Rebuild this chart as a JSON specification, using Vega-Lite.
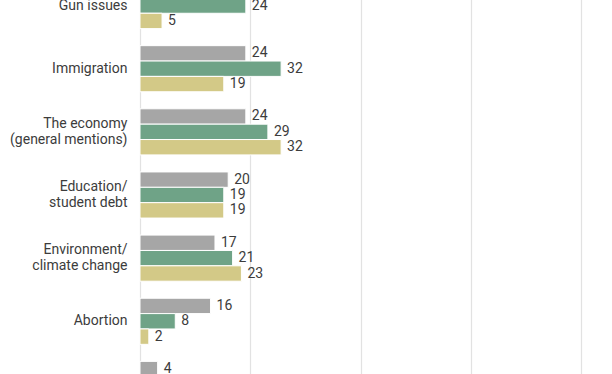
{
  "$schema": "https://vega.github.io/schema/vega-lite/v6.json",
  "width": 441,
  "height": 442,
  "autosize": {"type": "none"},
  "padding": {"left": 140, "top": -26, "right": 31, "bottom": -42},
  "background": "white",
  "config": {"font": "Roboto", "view": {"stroke": null}},
  "data": {
    "values": [
      {"issue": "Gun issues", "group": "Group 2", "value": 24},
      {"issue": "Gun issues", "group": "Group 3", "value": 5},
      {"issue": "Immigration", "group": "Group 1", "value": 24},
      {"issue": "Immigration", "group": "Group 2", "value": 32},
      {"issue": "Immigration", "group": "Group 3", "value": 19},
      {"issue": "The economy|(general mentions)", "group": "Group 1", "value": 24},
      {"issue": "The economy|(general mentions)", "group": "Group 2", "value": 29},
      {"issue": "The economy|(general mentions)", "group": "Group 3", "value": 32},
      {"issue": "Education/|student debt", "group": "Group 1", "value": 20},
      {"issue": "Education/|student debt", "group": "Group 2", "value": 19},
      {"issue": "Education/|student debt", "group": "Group 3", "value": 19},
      {"issue": "Environment/|climate change", "group": "Group 1", "value": 17},
      {"issue": "Environment/|climate change", "group": "Group 2", "value": 21},
      {"issue": "Environment/|climate change", "group": "Group 3", "value": 23},
      {"issue": "Abortion", "group": "Group 1", "value": 16},
      {"issue": "Abortion", "group": "Group 2", "value": 8},
      {"issue": "Abortion", "group": "Group 3", "value": 2},
      {"issue": "Other", "group": "Group 1", "value": 4}
    ]
  },
  "encoding": {
    "y": {
      "field": "issue",
      "type": "nominal",
      "sort": ["Gun issues", "Immigration", "The economy|(general mentions)", "Education/|student debt", "Environment/|climate change", "Abortion", "Other"],
      "scale": {"paddingInner": 0.27, "paddingOuter": 0.135},
      "axis": {
        "title": null,
        "domain": false,
        "ticks": false,
        "labelPadding": 13,
        "labelFontSize": 14,
        "labelColor": "#3c3c3c",
        "labelLimit": 200,
        "labelLineHeight": 16,
        "labelOffset": {"condition": {"test": "indexof(datum.value, '|') >= 0", "value": -8}, "value": 0},
        "labelExpr": "split(datum.label, '|')"
      }
    },
    "yOffset": {
      "field": "group",
      "type": "nominal",
      "scale": {"domain": ["Group 1", "Group 2", "Group 3"], "paddingInner": 0, "paddingOuter": 0}
    },
    "x": {
      "field": "value",
      "type": "quantitative",
      "scale": {"domain": [0, 100]},
      "axis": {
        "title": null,
        "labels": false,
        "ticks": false,
        "domain": false,
        "values": [0, 25, 50, 75, 100],
        "gridColor": "#e2e2e2",
        "gridWidth": 1.2
      }
    }
  },
  "layer": [
    {
      "mark": {"type": "bar", "stroke": "white", "strokeWidth": 1},
      "encoding": {
        "color": {
          "field": "group",
          "type": "nominal",
          "scale": {"domain": ["Group 1", "Group 2", "Group 3"], "range": ["#a6a6a6", "#6fa387", "#d3c987"]},
          "legend": null
        }
      }
    },
    {
      "mark": {"type": "text", "align": "left", "baseline": "middle", "dx": 6, "fontSize": 14, "color": "#3c3c3c"},
      "encoding": {"text": {"field": "value", "type": "quantitative"}}
    }
  ]
}
